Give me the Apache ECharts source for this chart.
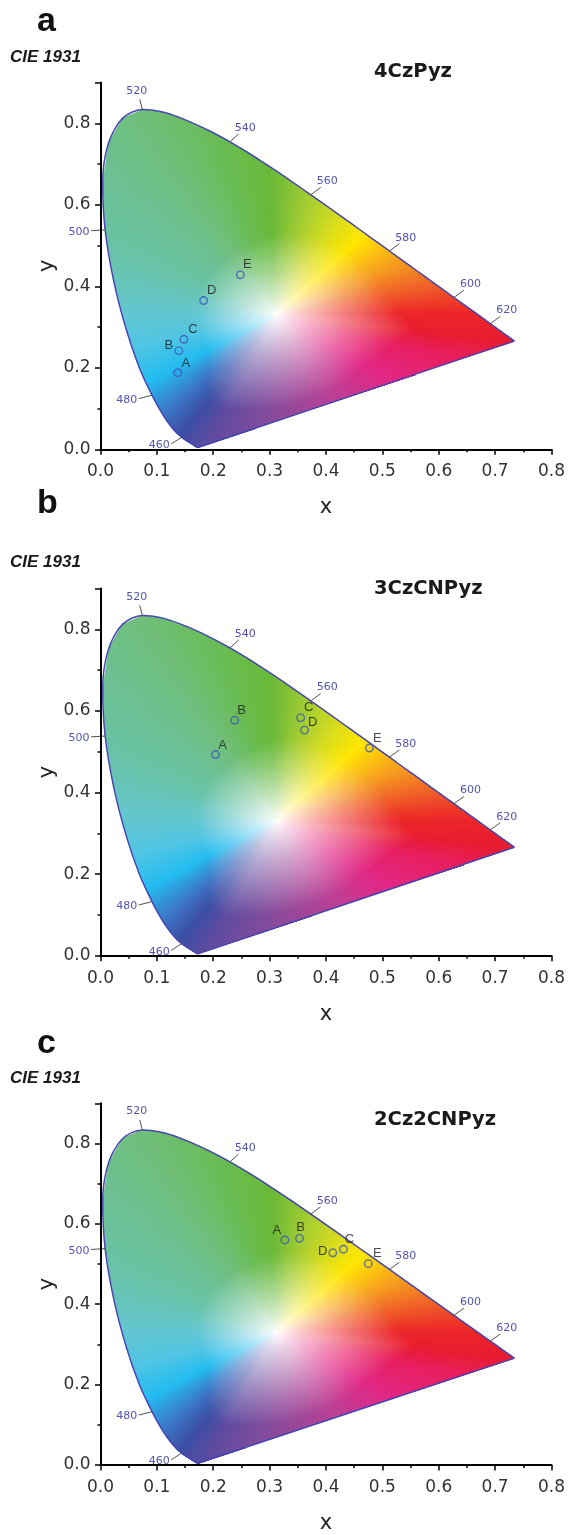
<!DOCTYPE html>
<html>
<head>
<meta charset="utf-8">
<script src="https://cdn.jsdelivr.net/npm/echarts@6/dist/echarts.min.js"></script>
<style>
html,body{margin:0;padding:0;background:#fff;}
#chart{width:568px;height:1535px;}
</style>
</head>
<body>
<div id="chart"></div>
<script>
// ---------- DATA ----------
// CIE 1931 2-degree spectral locus (chromaticity x, y) every 5 nm
const LOCUS_WL = [380,385,390,395,400,405,410,415,420,425,430,435,440,445,450,455,460,465,470,475,480,485,490,495,500,505,510,515,520,525,530,535,540,545,550,555,560,565,570,575,580,585,590,595,600,605,610,615,620,625,630,635,640,645,650,655,660,665,670,675,680,685,690,695,700];
const LOCUS_X = [0.1741,0.1740,0.1738,0.1736,0.1733,0.1730,0.1726,0.1721,0.1714,0.1703,0.1689,0.1669,0.1644,0.1611,0.1566,0.1510,0.1440,0.1355,0.1241,0.1096,0.0913,0.0687,0.0454,0.0235,0.0082,0.0039,0.0139,0.0389,0.0743,0.1142,0.1547,0.1929,0.2296,0.2658,0.3016,0.3373,0.3731,0.4087,0.4441,0.4788,0.5125,0.5448,0.5752,0.6029,0.6270,0.6482,0.6658,0.6801,0.6915,0.7006,0.7079,0.7140,0.7190,0.7230,0.7260,0.7283,0.7300,0.7311,0.7320,0.7327,0.7334,0.7340,0.7344,0.7346,0.7347];
const LOCUS_Y = [0.0050,0.0050,0.0049,0.0049,0.0048,0.0048,0.0048,0.0048,0.0051,0.0058,0.0069,0.0086,0.0109,0.0138,0.0177,0.0227,0.0297,0.0399,0.0578,0.0868,0.1327,0.2007,0.2950,0.4127,0.5384,0.6548,0.7502,0.8120,0.8338,0.8262,0.8059,0.7816,0.7543,0.7243,0.6923,0.6589,0.6245,0.5896,0.5547,0.5202,0.4866,0.4544,0.4242,0.3965,0.3725,0.3514,0.3340,0.3197,0.3083,0.2993,0.2920,0.2859,0.2809,0.2770,0.2740,0.2717,0.2700,0.2689,0.2680,0.2673,0.2666,0.2660,0.2656,0.2654,0.2653];
const WL_MARKS = [460,480,500,520,540,560,580,600,620];

const POINT_NAMES = ['A','B','C','D','E'];
const PANEL_TITLES = ['4CzPyz','3CzCNPyz','2Cz2CNPyz'];
const PANEL_LETTERS = ['a','b','c'];
// 4CzPyz
const A_X = [0.137,0.139,0.148,0.183,0.248];
const A_Y = [0.188,0.242,0.270,0.365,0.428];
// 3CzCNPyz
const B_X = [0.204,0.238,0.355,0.362,0.477];
const B_Y = [0.493,0.577,0.583,0.553,0.509];
// 2Cz2CNPyz
const C_X = [0.327,0.353,0.431,0.412,0.475];
const C_Y = [0.560,0.564,0.537,0.528,0.501];
const X_TICKS = [0,0.1,0.2,0.3,0.4,0.5,0.6,0.7,0.8];
const Y_TICKS = [0,0.2,0.4,0.6,0.8];

// ---------- STYLE ----------
const LABEL_OFFSETS = [
  [[8,-9],[-10,-5],[9,-10],[8,-10],[7,-10]],
  [[7,-9],[7,-10],[8,-10],[8,-8],[8,-10]],
  [[-8,-10],[1,-11],[6,-10],[-10,-1],[9,-10]]
];
const GRIDS = [
  {left:100.5, width:453, top:82.5, height:366.8},
  {left:100.5, width:453, top:588.5, height:367.2},
  {left:100.5, width:453, top:1103.3, height:367}
];
const LETTER_Y = [21.5, 503.5, 1043.5];
const CIE_Y = [57.5, 562.5, 1078.3];
const TITLE_Y = [71.7, 588.6, 1120.3];

const WP = [0.312, 0.331];            // white centre of the colour map
const SAT_EXP = 0.85;
// colour map anchors: direction point (x,y), colour, radius of full saturation
const COLOR_ANCHORS = [
  [0.735,0.265,232,28,48,0.25],
  [0.66,0.335,236,38,40,0.22],
  [0.59,0.41,240,100,40,0.2],
  [0.53,0.465,246,160,30,0.2],
  [0.465,0.525,255,230,0,0.2],
  [0.42,0.57,215,220,30,0.2],
  [0.37,0.625,165,205,50,0.2],
  [0.30,0.69,105,185,55,0.2],
  [0.20,0.78,105,188,85,0.18],
  [0.08,0.83,112,190,120,0.17],
  [0.01,0.70,108,192,145,0.16],
  [0.00,0.50,105,195,168,0.15],
  [0.03,0.35,100,198,205,0.14],
  [0.06,0.25,80,197,228,0.14],
  [0.09,0.17,35,188,240,0.15],
  [0.12,0.10,60,120,200,0.19],
  [0.15,0.05,60,78,165,0.24],
  [0.19,0.015,95,75,160,0.25],
  [0.30,0.05,135,75,155,0.23],
  [0.42,0.11,185,65,150,0.21],
  [0.52,0.16,225,40,135,0.2],
  [0.63,0.225,232,30,95,0.22]
];

const anchors = COLOR_ANCHORS.map(a => ({ang: Math.atan2(a[1]-WP[1], a[0]-WP[0]), c:[a[2],a[3],a[4],a[5]]}))
  .sort((p,q) => p.ang - q.ang);

function anchorColor(th){
  const n = anchors.length;
  let j = 0;
  while (j < n && anchors[j].ang <= th) j++;
  let A, B, a0, a1, t = th;
  if (j === 0 || j === n) {
    A = anchors[n-1]; B = anchors[0];
    a0 = A.ang; a1 = B.ang + 2*Math.PI;
    if (t < a0) t += 2*Math.PI;
  } else {
    A = anchors[j-1]; B = anchors[j]; a0 = A.ang; a1 = B.ang;
  }
  const f = (t - a0) / (a1 - a0);
  return [0,1,2,3].map(k => A.c[k] + (B.c[k]-A.c[k])*f);
}
function fillColor(x, y){
  const dx = x - WP[0], dy = y - WP[1];
  const r = Math.hypot(dx, dy);
  if (r < 1e-6) return 'rgb(255,255,255)';
  const c = anchorColor(Math.atan2(dy, dx));
  const t = Math.pow(Math.min(1, r/c[3]), SAT_EXP);
  const v = [0,1,2].map(k => Math.round(255 + (c[k]-255)*t));
  return 'rgb(' + v[0] + ',' + v[1] + ',' + v[2] + ')';
}
function rowExtent(y){
  const n = LOCUS_X.length;
  let mn = Infinity, mx = -Infinity;
  for (let k=0;k<n;k++){
    const a = k, b = (k+1)%n;
    const x1 = LOCUS_X[a], y1 = LOCUS_Y[a], x2 = LOCUS_X[b], y2 = LOCUS_Y[b];
    if ((y1 <= y && y2 > y) || (y2 <= y && y1 > y)) {
      const xi = x1 + (y-y1)/(y2-y1)*(x2-x1);
      mn = Math.min(mn, xi); mx = Math.max(mx, xi);
    }
  }
  return mn < mx ? [mn, mx] : null;
}

// raster rows of the colour fill
const DY = 0.0025;
const Y_MIN = Math.min(...LOCUS_Y), Y_MAX = Math.max(...LOCUS_Y);
const FILL_ROWS = [];
for (let y = Y_MIN + DY/2; y < Y_MAX; y += DY) FILL_ROWS.push([0, y]);
const rowCache = {};

function renderFillRow(params, api){
  const idx = params.dataIndex;
  const y = api.value(1);
  let cached = rowCache[idx];
  if (!cached) {
    const ext = rowExtent(y);
    if (!ext) { rowCache[idx] = {ext:null}; return null; }
    const N = Math.max(2, Math.ceil((ext[1]-ext[0])/0.004) + 1);
    const stops = [];
    for (let k=0;k<N;k++){
      const f = k/(N-1);
      stops.push({offset:f, color: fillColor(ext[0] + (ext[1]-ext[0])*f, y)});
    }
    cached = rowCache[idx] = {ext:ext, stops:stops};
  }
  if (!cached.ext) return null;
  const ext = cached.ext;
  const p0 = api.coord([ext[0], y]);
  const p1 = api.coord([ext[1], y]);
  const top = Math.floor(api.coord([0, y + DY/2])[1]);
  const bot = Math.ceil(api.coord([0, y - DY/2])[1]);
  return {
    type:'rect',
    shape:{x:p0[0], y:top, width:Math.max(0.5,p1[0]-p0[0]), height:Math.max(1, bot-top)},
    style:{fill:new echarts.graphic.LinearGradient(0,0,1,0,cached.stops)},
    silent:true
  };
}

const TICK_L = 0.025;
function renderWl(params, api){
  const i = api.value(3), wl = api.value(2);
  const x0 = LOCUS_X[i], y0 = LOCUS_Y[i];
  let tx = LOCUS_X[i+1]-LOCUS_X[i-1], ty = LOCUS_Y[i+1]-LOCUS_Y[i-1];
  const tl = Math.hypot(tx,ty); tx/=tl; ty/=tl;
  let nx = ty, ny = -tx;
  if (nx*(x0-WP[0]) + ny*(y0-WP[1]) < 0) { nx=-nx; ny=-ny; }
  const p0 = api.coord([x0,y0]);
  const p1 = api.coord([x0+nx*TICK_L, y0+ny*TICK_L]);
  const dx = p1[0]-p0[0], dy = p1[1]-p0[1];
  const len = Math.hypot(dx,dy), ux = dx/len;
  let tx2, ty2, align, valign;
  if (ux < -0.3) { align='right'; valign='middle'; tx2=p1[0]-1.5; ty2=p1[1]+1.5; }
  else if (ux > 0.3) { align='left'; valign='bottom'; tx2=p1[0]-4; ty2=p1[1]-0.5; }
  else { align='center'; valign='bottom'; tx2=p1[0]-3; ty2=p1[1]-3; }
  return {
    type:'group',
    children:[
      {type:'line', shape:{x1:p0[0],y1:p0[1],x2:p1[0],y2:p1[1]}, style:{stroke:'#505050', lineWidth:1}},
      {type:'text', style:{text:String(wl), x:tx2, y:ty2, align:align, verticalAlign:valign,
        fill:'#5252b2', font:'11px "DejaVu Sans"'}}
    ]
  };
}

const WL_DATA = WL_MARKS.map(w => { const i = LOCUS_WL.indexOf(w); return [LOCUS_X[i], LOCUS_Y[i], w, i]; });
const LOCUS_DATA = LOCUS_X.map((x,i) => [x, LOCUS_Y[i]]).concat([[LOCUS_X[0], LOCUS_Y[0]]]);
const POINTS = [[A_X,A_Y],[B_X,B_Y],[C_X,C_Y]];

const series = [];
const graphic = [];
for (let p=0;p<3;p++){
  series.push({type:'custom', xAxisIndex:p, yAxisIndex:p, data:FILL_ROWS, renderItem:renderFillRow, silent:true, z:1, clip:false, animation:false});
  series.push({type:'line', xAxisIndex:p, yAxisIndex:p, data:LOCUS_DATA, showSymbol:false, symbol:'none', silent:true, z:3,
    smooth:0.3, lineStyle:{color:'#4646b2', width:1.5}});
  series.push({type:'custom', xAxisIndex:p, yAxisIndex:p, data:WL_DATA, renderItem:renderWl, silent:true, z:4, clip:false});
  series.push({type:'scatter', xAxisIndex:p, yAxisIndex:p, z:5, symbol:'circle', symbolSize:7.5,
    itemStyle:{color:'rgba(0,0,0,0)', borderColor:'#3b55b8', borderWidth:1.4},
    data: POINTS[p][0].map((x,i) => ({
      name: POINT_NAMES[i], value:[x, POINTS[p][1][i]],
      label:{show:true, formatter:'{b}', position:'inside', offset:LABEL_OFFSETS[p][i],
        color:'#1c1c1c', fontSize:13, fontFamily:'Liberation Sans'}
    }))
  });
  graphic.push({type:'text', x:37, y:LETTER_Y[p], style:{text:PANEL_LETTERS[p], font:'bold 34px "Liberation Sans"', fill:'#111',
    align:'left', textAlign:'left', verticalAlign:'middle', textVerticalAlign:'middle'}});
  graphic.push({type:'text', x:10, y:CIE_Y[p], style:{text:'CIE 1931', font:'italic bold 17px "Liberation Sans"', fill:'#1a1a1a',
    align:'left', textAlign:'left', verticalAlign:'middle', textVerticalAlign:'middle'}});
  graphic.push({type:'text', x:374, y:TITLE_Y[p], style:{text:PANEL_TITLES[p], font:'bold 19.5px "DejaVu Sans"', fill:'#1a1a1a',
    align:'left', textAlign:'left', verticalAlign:'middle', textVerticalAlign:'middle'}});
}

const axisCommon = {
  type:'value',
  axisLine:{show:true, onZero:false, lineStyle:{color:'#000', width:2}},
  axisTick:{show:true, length:5.5, lineStyle:{color:'#000', width:1.5}},
  minorTick:{show:true, splitNumber:2, length:3, lineStyle:{color:'#000', width:1.5}},
  splitLine:{show:false},
  nameLocation:'middle',
  nameMoveOverlap:false,
  nameTextStyle:{fontSize:21, fontFamily:'DejaVu Sans', color:'#222'},
  z:10
};

const option = {
  animation:false,
  backgroundColor:'#ffffff',
  grid: GRIDS,
  xAxis: [0,1,2].map(i => Object.assign({}, axisCommon, {
    gridIndex:i, min:X_TICKS[0], max:X_TICKS[X_TICKS.length-1], interval:0.1, name:'x', nameGap:48,
    axisLabel:{margin:14, fontSize:17, fontFamily:'DejaVu Sans', color:'#333', formatter:v => v.toFixed(1)}
  })),
  yAxis: [0,1,2].map(i => Object.assign({}, axisCommon, {
    gridIndex:i, min:Y_TICKS[0], max:0.9, interval:0.2, name:'y', nameGap:42,
    axisLabel:{margin:10, fontSize:17, fontFamily:'DejaVu Sans', color:'#333',
      formatter:v => (Y_TICKS.some(t => Math.abs(t-v)<1e-9) ? v.toFixed(1) : '')}
  })),
  graphic: graphic,
  series: series
};

const chart = echarts.init(document.getElementById('chart'), null, {renderer:'canvas'});
chart.setOption(option);
</script>
</body>
</html>
